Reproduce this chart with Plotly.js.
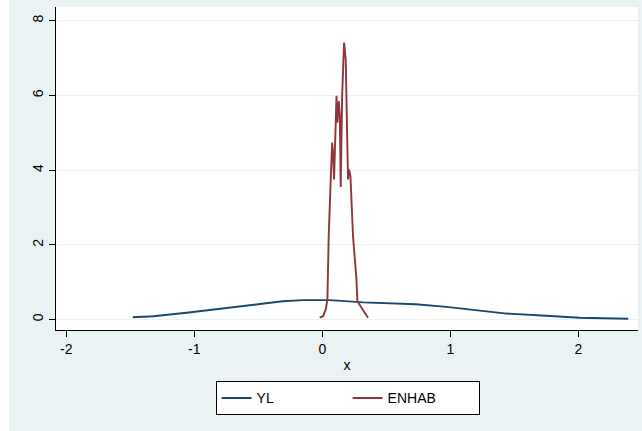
<!DOCTYPE html>
<html>
<head>
<meta charset="utf-8">
<script src="https://cdn.plot.ly/plotly-3.0.1.min.js"></script>
<style>html,body{margin:0;padding:0;background:#fff;}#chart{width:642px;height:431px;}</style>
</head>
<body>
<div id="chart"></div>
<script>
// YL kernel density
const ylX = [-1.48, -1.32, -1.06, -0.80, -0.54, -0.31, -0.15, 0.03, 0.06, 0.32, 0.58, 0.73, 0.97, 1.23, 1.44, 1.75, 2.01, 2.39];
const ylY = [0.06, 0.09, 0.18, 0.29, 0.40, 0.49, 0.52, 0.52, 0.52, 0.46, 0.42, 0.41, 0.34, 0.24, 0.16, 0.10, 0.05, 0.02];
// ENHAB kernel density
const enX = [-0.02, 0.006, 0.027, 0.04, 0.05, 0.059, 0.066, 0.077, 0.084, 0.092, 0.103, 0.111, 0.118, 0.129, 0.137, 0.144, 0.155, 0.17, 0.183, 0.194, 0.201, 0.209, 0.22, 0.24, 0.267, 0.274, 0.29, 0.318, 0.337, 0.357];
const enY = [0.05, 0.09, 0.27, 0.54, 2.23, 3.57, 3.75, 4.74, 4.47, 3.75, 5.27, 5.99, 5.27, 5.85, 5.45, 3.55, 5.99, 7.42, 6.97, 5.09, 3.75, 4.02, 3.84, 2.23, 1.07, 0.49, 0.40, 0.27, 0.13, 0.05];
const xTicks = [-2, -1, 0, 1, 2];
const yTicks = [0, 2, 4, 6, 8];
const seriesNames = ['YL', 'ENHAB'];

const FONT = 'Liberation Sans, Arial, Helvetica, sans-serif';
const traces = [
  {x: ylX, y: ylY, name: seriesNames[0], type: 'scatter', mode: 'lines', line: {color: '#1a476f', width: 1.9}},
  {x: enX, y: enY, name: seriesNames[1], type: 'scatter', mode: 'lines', line: {color: '#90353b', width: 1.9}}
];
const layout = {
  width: 642, height: 431,
  margin: {l: 56, r: 4, t: 7, b: 101},
  paper_bgcolor: '#eaf2f3',
  plot_bgcolor: '#ffffff',
  font: {family: FONT, size: 14, color: '#000'},
  showlegend: true,
  xaxis: {
    range: [-2.08, 2.466], tickvals: xTicks, ticktext: xTicks.map(String),
    showgrid: false, zeroline: false, showline: true, linecolor: '#000', linewidth: 1,
    ticks: 'outside', ticklen: 6, tickcolor: '#000', tickwidth: 1,
    title: {text: 'x', font: {family: FONT, size: 14}, standoff: 4}
  },
  yaxis: {
    range: [-0.28, 8.37], tickvals: yTicks, ticktext: yTicks.map(String),
    showgrid: true, gridcolor: '#eaf2f3', gridwidth: 1, zeroline: false,
    showline: true, linecolor: '#000', linewidth: 1,
    ticks: 'outside', ticklen: 6, tickcolor: '#000', tickwidth: 1, tickangle: -90
  },
  legend: {
    orientation: 'h', x: 0.501, xanchor: 'center', y: -0.159, yanchor: 'top',
    bgcolor: '#ffffff', bordercolor: '#000', borderwidth: 1,
    font: {family: FONT, size: 14}, entrywidth: 86, entrywidthmode: 'pixels'
  },
  shapes: [
    {type: 'rect', xref: 'paper', yref: 'paper', x0: -0.0963, x1: -0.0808, y0: -0.32, y1: 1.03,
     fillcolor: '#ffffff', line: {width: 0}, layer: 'below'}
  ]
};
Plotly.newPlot('chart', traces, layout, {displayModeBar: false, staticPlot: true});
</script>
</body>
</html>
